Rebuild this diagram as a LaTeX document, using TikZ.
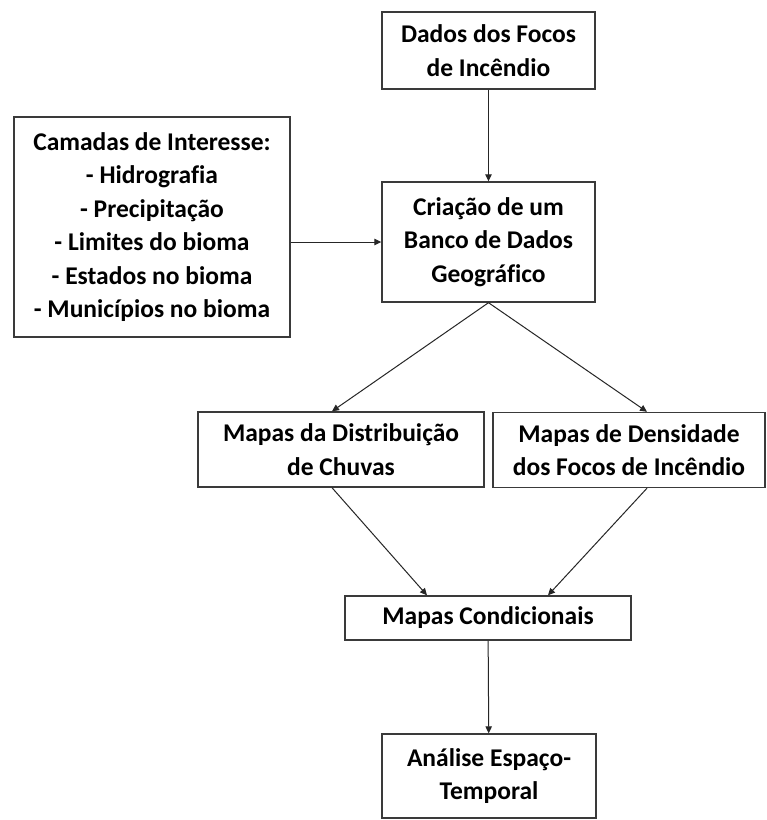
\documentclass[tikz,border=0pt]{standalone}
\usepackage{fontspec}
\setmainfont{Carlito}[Ligatures=NoCommon]
\usetikzlibrary{arrows.meta}
\definecolor{edge}{HTML}{3A3A3A}
\begin{document}
\begin{tikzpicture}[x=1pt,y=-1pt,
  box/.style={draw=edge,line width=1.4pt,inner sep=0pt,align=center,
    font=\fontsize{25.5}{33.5}\selectfont\bfseries},
  conn/.style={draw=black!85,line width=1pt,-{Triangle[length=7pt,width=6.5pt]}}]
\useasboundingbox (0,0) rectangle (767,820);
\fill[white] (0,0) rectangle (767,820);
\node[box,minimum width=213pt,minimum height=77pt] (dados) at (488.5,50.5) {Dados dos Focos\\de Incêndio};
\node[box,minimum width=276pt,minimum height=220pt] (camadas) at (152,227) {Camadas de Interesse:\\- Hidrografia\\- Precipitação\\- Limites do bioma\\- Estados no bioma\\- Municípios no bioma};
\node[box,minimum width=213pt,minimum height=120pt] (banco) at (488.5,242) {Criação de um\\Banco de Dados\\Geográfico};
\node[box,minimum width=286pt,minimum height=75pt] (chuvas) at (341,449.5) {Mapas da Distribuição\\de Chuvas};
\node[box,minimum width=272pt,minimum height=75pt] (densidade) at (629,450) {Mapas de Densidade\\dos Focos de Incêndio};
\node[box,minimum width=286pt,minimum height=44pt] (cond) at (488,618) {Mapas Condicionais};
\node[box,minimum width=214pt,minimum height=84pt] (analise) at (489,776) {Análise Espaço-\\Temporal};
\coordinate (c1) at (332,0);
\coordinate (c2) at (647,0);
\draw[conn] (dados) -- (banco);
\draw[conn] (camadas.east |- banco) -- (banco);
\draw[conn] (banco.south) -- (chuvas.north -| c1);
\draw[conn] (banco.south) -- (densidade.north -| c2);
\draw[conn] (chuvas.south -| c1) -- ([xshift=-61pt]cond.north);
\draw[conn] (densidade.south -| c2) -- ([xshift=60pt]cond.north);
\draw[conn] (cond) -- (analise);
\end{tikzpicture}
\end{document}
